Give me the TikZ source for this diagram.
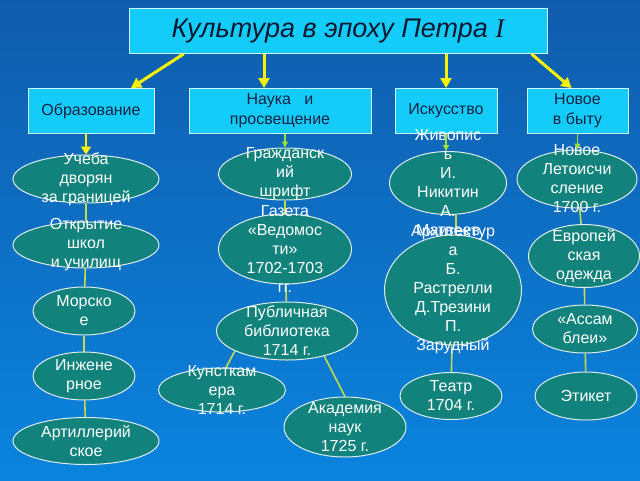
\documentclass[tikz,border=0pt]{standalone}
\usepackage{fontspec}
\setmainfont{Liberation Sans}
\newfontfamily\romanI{Liberation Serif}
\usetikzlibrary{positioning,shapes.geometric,arrows.meta,backgrounds}
\definecolor{bgtop}{RGB}{16,92,172}
\definecolor{bgbottom}{RGB}{10,132,222}
\definecolor{sky}{RGB}{20,204,250}
\definecolor{sea}{RGB}{18,130,125}
\definecolor{ink}{RGB}{22,34,70}
\definecolor{leaf}{RGB}{196,218,70}

\begin{document}
\begin{tikzpicture}[x=1pt,y=-1pt,
  topic/.style={draw=white!80!sky, fill=sky, line width=1pt, inner sep=0pt, text=ink, align=center, font=\fontsize{16}{20}\selectfont},
  oval/.style n args={3}{ellipse, draw=white!85!sea, fill=sea, line width=1pt, inner sep=0pt, minimum width=#1, minimum height=#2, label={center:{#3}}},
  every label/.style={text=white, align=center, font=\fontsize{16}{19}\selectfont},
  bigarrow/.style={yellow, line width=3pt, -{Triangle[width=11pt,length=10pt]}},
  downarrow/.style={yellow, line width=2pt, -{Triangle[width=10pt,length=8pt]}},
  leafarrow/.style={leaf!80!green, line width=1.6pt, -{Triangle[width=6pt,length=6pt]}},
  link/.style={leaf, line width=1.6pt}]
\useasboundingbox (0,0) rectangle (640,480);
\node[topic, minimum width=418pt, minimum height=45pt, text=ink!70!black, font=\fontsize{27}{32}\itshape] (title) at (338,31) {Культура в эпоху Петра {\romanI\itshape I}};
\node[topic, minimum width=126pt, minimum height=45pt] (obraz) at (91,111) {Образование};
\node[topic, minimum width=182pt, minimum height=45pt] (nauka) at (280,111) {Наука~~~и\\просвещение};
\node[topic, minimum width=102pt, minimum height=45pt] (iskus) at (446,111) {Искусство};
\node[topic, minimum width=101pt, minimum height=45pt] (byt) at (577.5,111) {Новое\\в быту};

\node[oval={146pt}{48pt}{Учеба\\дворян\\за границей}] (ucheba) at (86,179) {};
\node[oval={146pt}{46pt}{Открытие\\школ\\и училищ}] (shkoly) at (86,245) {};
\node[oval={102pt}{48pt}{Морско\\е}] (morskoe) at (84,311) {};
\node[oval={102pt}{48pt}{Инжене\\рное}] (inzh) at (84,376) {};
\node[oval={146pt}{47pt}{Артиллерий\\ское}] (artil) at (86,441) {};

\node[oval={133pt}{52pt}{Гражданск\\ий\\шрифт}] (shrift) at (285,174) {};
\node[oval={133pt}{70pt}{Газета\\«Ведомос\\ти»\\1702-1703\\гг.}] (gazeta) at (285,249) {};
\node[oval={141pt}{58pt}{Публичная\\библиотека\\1714 г.}] (bibl) at (287,331) {};
\node[oval={127pt}{44pt}{Кунсткам\\ера\\1714 г.}] (kunst) at (222,390) {};
\node[oval={122pt}{60pt}{Академия\\наук\\1725 г.}] (akad) at (345,427) {};

\node[oval={117pt}{63pt}{Живопис\\ь\\И.\\Никитин\\А.\\Матвеев}] (zhivop) at (448,183) {};
\node[oval={137pt}{110pt}{Архитектур\\а\\Б.\\Растрелли\\Д.Трезини\\П.\\Зарудный}] (arkh) at (453,290) {};
\node[oval={102pt}{47pt}{Театр\\1704 г.}] (teatr) at (451,396) {};

\node[oval={120pt}{58pt}{Новое\\Летоисчи\\сление\\1700 г.}] (kalend) at (577,179) {};
\node[oval={111pt}{63pt}{Европей\\ская\\одежда}] (odezhda) at (584,256) {};
\node[oval={105pt}{48pt}{«Ассам\\блеи»}] (assamb) at (585,329) {};
\node[oval={102pt}{48pt}{Этикет}] (etiket) at (586,396) {};

\draw[bigarrow] ([xshift=55pt]title.south west) -- ([xshift=40pt]obraz.north);
\draw[bigarrow] ([xshift=-16pt]title.south -| nauka.north) -- ([xshift=-16pt]nauka.north);
\draw[bigarrow] (title.south -| iskus.north) -- (iskus.north);
\draw[bigarrow] ([xshift=-16pt]title.south east) -- ([xshift=-6pt]byt.north);
\draw[downarrow] (obraz.south -| ucheba.north) -- (ucheba.north);
\draw[leafarrow] (nauka.south -| shrift.north) -- (shrift.north);
\draw[leafarrow] (iskus.south) -- (iskus.south |- zhivop.north);
\draw[leafarrow] (byt.south) -- (byt.south |- kalend.north);

\begin{scope}[on background layer]
\fill[top color=bgtop, bottom color=bgbottom] (0,0) rectangle (640,480);
\draw[link] (ucheba) -- (shkoly);
\draw[link] (shkoly) -- (morskoe);
\draw[link] (morskoe) -- (inzh);
\draw[link] (inzh) -- (artil);
\draw[link] (shrift) -- (gazeta);
\draw[link] (gazeta) -- (bibl);
\draw[link] (bibl.201) -- (kunst.80);
\draw[link] (bibl.326) -- (akad.north);
\draw[link] ([xshift=8pt]zhivop.south) -- ([xshift=3pt]arkh.north);
\draw[link] (arkh) -- (teatr);
\draw[link] (kalend) -- (odezhda);
\draw[link] (odezhda) -- (assamb);
\draw[link] (assamb) -- (etiket);
\end{scope}
\end{tikzpicture}
\end{document}
